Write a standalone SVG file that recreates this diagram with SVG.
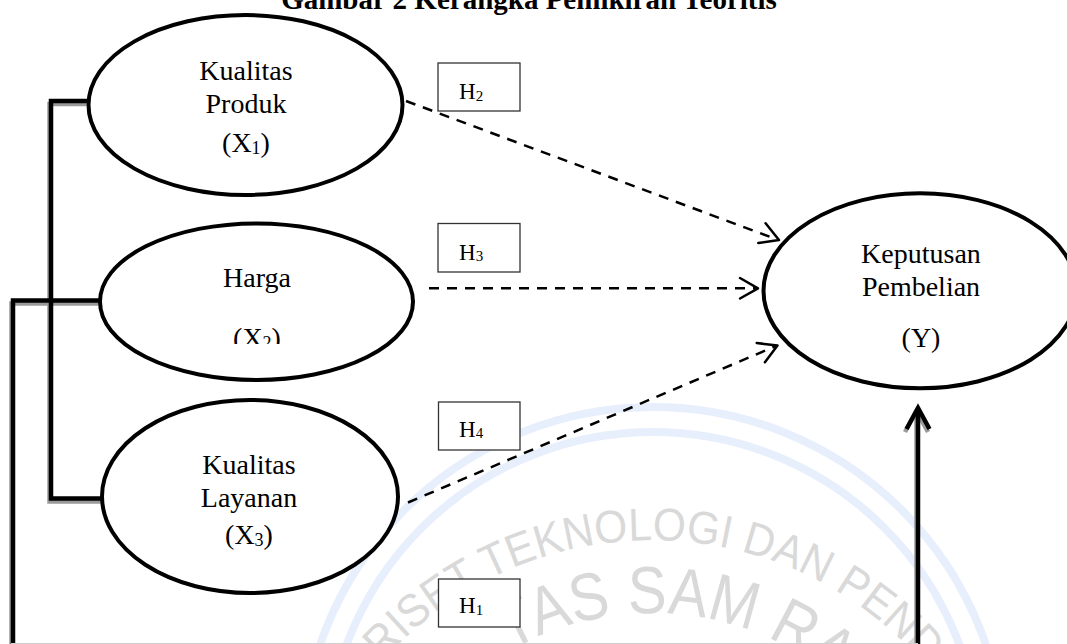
<svg xmlns="http://www.w3.org/2000/svg" width="1067" height="644" viewBox="0 0 1067 644">
<style>
.node ellipse { fill: #fff; stroke: #000; stroke-width: 4; }
.lbl { font-family: "Liberation Serif", "Times New Roman", serif; font-size: 28px; fill: #000; text-anchor: middle; }
.sub { font-size: 18px; }
.title { font-family: "Liberation Serif", "Times New Roman", serif; font-size: 29px; font-weight: bold; fill: #000; text-anchor: middle; }
.hbox rect { fill: #fff; stroke: #333; stroke-width: 1.3; }
.htxt { font-family: "Liberation Serif", "Times New Roman", serif; font-size: 23px; fill: #000; }
.hsub { font-size: 15px; }
.dash { fill: none; stroke: #000; stroke-width: 2.5; stroke-dasharray: 10 8; }
.head { fill: none; stroke: #000; stroke-width: 2.5; stroke-linecap: round; stroke-linejoin: round; }
.solid { fill: none; stroke: #000; stroke-width: 4.5; stroke-linejoin: miter; }
.shadow { fill: none; stroke: #9a9a9a; stroke-width: 4.5; }
.wmarc { fill: none; stroke: #e8effc; stroke-width: 8; }
.wm { font-family: "Liberation Sans", Arial, sans-serif; fill: #d9d9d9; }
</style>
<defs>
<clipPath id="clipX2"><rect x="0" y="0" width="1067" height="344"/></clipPath>
<path id="wmOuter" d="M297.5,837.5 A360,360 0 0 1 1006.5,837.5"/>
<path id="wmInner" d="M369.4,850.2 A287,287 0 0 1 934.6,850.2"/>
</defs>
<rect x="0" y="0" width="1067" height="644" fill="#fff"/>

<g id="watermark">
  <circle class="wmarc" cx="653" cy="759" r="352"/>
  <circle class="wmarc" cx="653" cy="759" r="327"/>
  <text class="wm" font-size="46"><textPath href="#wmOuter" startOffset="198" textLength="613" lengthAdjust="spacingAndGlyphs">RISET TEKNOLOGI DAN PEND</textPath></text>
  <text class="wm" font-size="67"><textPath href="#wmInner" startOffset="252" textLength="347" lengthAdjust="spacingAndGlyphs">TAS SAM RA</textPath></text>
</g>

<text class="title" x="529" y="9">Gambar 2 Kerangka Pemikiran Teoritis</text>

<g id="connectors">
  <g transform="translate(-1.5,3)">
    <path class="shadow" d="M88,101 H51 V498.5 H102"/>
    <path class="shadow" d="M100,300.5 H13 V649 M918,649 V410"/>
    <polyline class="shadow" points="906.5,429 918,408 929.5,429"/>
  </g>
  <path class="solid" d="M88,101 H51 V498.5 H102"/>
  <path class="solid" d="M100,300.5 H13 V649 H918 V410"/>
  <polyline class="solid" points="906.5,429 918,408 929.5,429"/>
  <line x1="11" y1="643.5" x2="918" y2="643.5" stroke="#cfcfcf" stroke-width="1"/>

  <line class="dash" x1="406" y1="101" x2="777" y2="239.5"/>
  <polyline class="head" points="765.6,223.3 779,240 758.3,243"/>
  <line class="dash" x1="429" y1="288.3" x2="756" y2="288.3"/>
  <polyline class="head" points="740,278 758,288.3 740,298.5"/>
  <line class="dash" x1="408" y1="502.5" x2="776" y2="346"/>
  <polyline class="head" points="756.7,343 777.5,345.5 764.9,362.3"/>
</g>

<g id="node-x1" class="node">
  <ellipse cx="245.5" cy="105" rx="157" ry="90"/>
  <text class="lbl" x="246" y="80">Kualitas</text>
  <text class="lbl" x="246" y="113">Produk</text>
  <text class="lbl" x="246" y="152">(X<tspan class="sub" dy="2">1</tspan><tspan dy="-2">)</tspan></text>
</g>
<g id="node-x2" class="node">
  <ellipse cx="256.5" cy="301.7" rx="156.5" ry="78.3"/>
  <text class="lbl" x="257" y="287">Harga</text>
  <text class="lbl" x="257" y="347" clip-path="url(#clipX2)">(X<tspan class="sub" dy="2">2</tspan><tspan dy="-2">)</tspan></text>
</g>
<g id="node-x3" class="node">
  <ellipse cx="250" cy="496.5" rx="148" ry="96.5"/>
  <text class="lbl" x="249" y="474">Kualitas</text>
  <text class="lbl" x="249" y="507">Layanan</text>
  <text class="lbl" x="249" y="544">(X<tspan class="sub" dy="2">3</tspan><tspan dy="-2">)</tspan></text>
</g>
<g id="node-y" class="node">
  <ellipse cx="920" cy="290.8" rx="156.5" ry="97.5"/>
  <text class="lbl" x="921" y="263">Keputusan</text>
  <text class="lbl" x="921" y="296">Pembelian</text>
  <text class="lbl" x="921" y="347">(Y)</text>
</g>

<g id="h2" class="hbox">
  <rect x="438" y="63" width="82" height="48"/>
  <text class="htxt" x="459" y="99">H<tspan class="hsub" dy="1.5">2</tspan></text>
</g>
<g id="h3" class="hbox">
  <rect x="438" y="223.5" width="82" height="48.5"/>
  <text class="htxt" x="459" y="259.5">H<tspan class="hsub" dy="1.5">3</tspan></text>
</g>
<g id="h4" class="hbox">
  <rect x="438.5" y="402" width="81.5" height="48"/>
  <text class="htxt" x="459" y="436.5">H<tspan class="hsub" dy="1.5">4</tspan></text>
</g>
<g id="h1" class="hbox">
  <rect x="438.5" y="579" width="81.5" height="48"/>
  <text class="htxt" x="459" y="613">H<tspan class="hsub" dy="1.5">1</tspan></text>
</g>
</svg>
